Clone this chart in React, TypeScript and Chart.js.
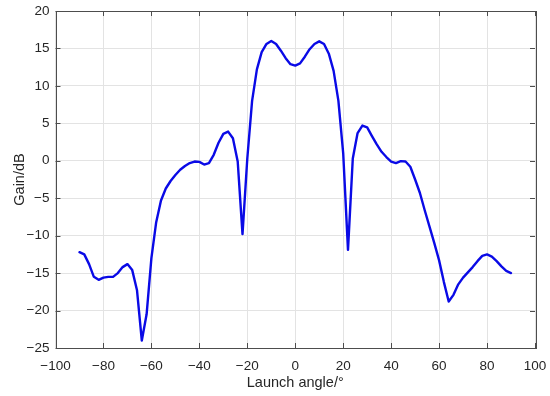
import React, { useEffect, useRef } from "react";
import { Chart, registerables } from "chart.js";

Chart.register(...registerables);

const angles: number[] = [
  -90, -88, -86, -84, -82, -80, -78, -76, -74, -72, -70, -68, -66, -64, -62, -60,
  -58, -56, -54, -52, -50, -48, -46, -44, -42, -40, -38, -36, -34, -32, -30, -28,
  -26, -24, -22, -20, -18, -16, -14, -12, -10, -8, -6, -4, -2, 0, 2, 4, 6, 8, 10,
  12, 14, 16, 18, 20, 22, 24, 26, 28, 30, 32, 34, 36, 38, 40, 42, 44, 46, 48, 50,
  52, 54, 56, 58, 60, 62, 64, 66, 68, 70, 72, 74, 76, 78, 80, 82, 84, 86, 88, 90,
];

const gain: number[] = [
  -12.2, -12.5, -13.8, -15.5, -15.9, -15.6, -15.5, -15.5, -15.0, -14.2, -13.8, -14.6,
  -17.3, -24.0, -20.5, -13.0, -8.2, -5.3, -3.7, -2.7, -1.9, -1.2, -0.7, -0.3, -0.1,
  -0.15, -0.5, -0.3, 0.8, 2.4, 3.6, 3.9, 3.0, -0.1, -9.8, 0.3, 8.0, 12.2, 14.5, 15.6,
  16.0, 15.6, 14.7, 13.7, 12.9, 12.7, 13.0, 13.9, 14.9, 15.6, 15.95, 15.6, 14.3, 12.0,
  8.0, 1.0, -11.9, 0.3, 3.7, 4.7, 4.45, 3.3, 2.2, 1.2, 0.5, -0.1, -0.3, -0.05, -0.1,
  -0.8, -2.5, -4.3, -6.6, -8.8, -11.0, -13.3, -16.2, -18.8, -17.9, -16.5, -15.6, -14.9,
  -14.2, -13.4, -12.7, -12.5, -12.8, -13.4, -14.1, -14.7, -15.0,
];

const xTitle = "Launch angle/°";
const yTitle = "Gain/dB";
const xRange = [-100, 100];
const yRange = [-25, 20];

const FONT = "'Liberation Sans', Arial, Helvetica, sans-serif";
const AXIS_COLOR = "#4d4d4d";
const TEXT_COLOR = "#262626";

const fmt = (v: number | string) => String(v).replace("-", "\u2212");

const boxPlugin = {
  id: "matlabBox",
  afterDraw(chart: any) {
    const { ctx, chartArea } = chart;
    const { left, right, top, bottom } = chartArea;
    ctx.save();
    ctx.strokeStyle = AXIS_COLOR;
    ctx.lineWidth = 1;
    const L = 5;
    ctx.beginPath();
    const xs = chart.scales.x;
    xs.ticks.forEach((t: any) => {
      const px = Math.round(xs.getPixelForValue(t.value)) + 0.5;
      ctx.moveTo(px, bottom);
      ctx.lineTo(px, bottom - L);
      ctx.moveTo(px, top);
      ctx.lineTo(px, top + L);
    });
    const ys = chart.scales.y;
    ys.ticks.forEach((t: any) => {
      const py = Math.round(ys.getPixelForValue(t.value)) + 0.5;
      ctx.moveTo(left, py);
      ctx.lineTo(left + L, py);
      ctx.moveTo(right, py);
      ctx.lineTo(right - L, py);
    });
    ctx.stroke();
    ctx.strokeRect(Math.round(left) + 0.5, Math.round(top) + 0.5, Math.round(right - left), Math.round(bottom - top));
    ctx.restore();
  },
};

export default function App() {
  const ref = useRef<HTMLCanvasElement>(null);
  useEffect(() => {
    if (!ref.current) return;
    const chart = new Chart(ref.current, {
      type: "line",
      data: {
        datasets: [
          {
            data: angles.map((a, i) => ({ x: a, y: gain[i] })),
            borderColor: "#0a0ae6",
            borderWidth: 2.4,
            borderJoinStyle: "round",
            borderCapStyle: "round",
            pointRadius: 0,
            tension: 0,
            fill: false,
          },
        ],
      },
      options: {
        responsive: false,
        animation: false,
        maintainAspectRatio: false,
        layout: { padding: { left: 0, top: 11, right: 15, bottom: 0 } },
        plugins: { legend: { display: false }, tooltip: { enabled: false } },
        scales: {
          x: {
            type: "linear",
            min: xRange[0],
            max: xRange[1],
            ticks: {
              stepSize: 20,
              color: TEXT_COLOR,
              font: { family: FONT, size: 13.5 },
              padding: 10,
              maxRotation: 0,
              callback: (v: any) => fmt(v),
            },
            grid: { color: "#e3e3e3", drawTicks: false },
            border: { display: false },
            title: {
              display: true,
              text: xTitle,
              color: TEXT_COLOR,
              font: { family: FONT, size: 14.5 },
              padding: { top: 2, bottom: 4 },
            },
            afterFit: (s: any) => {
              s.height = 48;
              s.paddingLeft = 0;
              s.paddingRight = 0;
            },
          },
          y: {
            min: yRange[0],
            max: yRange[1],
            ticks: {
              stepSize: 5,
              color: TEXT_COLOR,
              font: { family: FONT, size: 13.5 },
              padding: 6,
              callback: (v: any) => fmt(v),
            },
            grid: { color: "#e3e3e3", drawTicks: false },
            border: { display: false },
            title: {
              display: true,
              text: yTitle,
              color: TEXT_COLOR,
              font: { family: FONT, size: 14.5 },
              padding: { top: 11, bottom: 0 },
            },
            afterFit: (s: any) => {
              s.width = 55.5;
              s.paddingTop = 0;
              s.paddingBottom = 0;
            },
          },
        },
      },
      plugins: [boxPlugin],
    });
    return () => chart.destroy();
  }, []);
  return (
    <div style={{ position: "fixed", left: 0, top: 0, width: 550, height: 396, background: "#fff" }}>
      <canvas ref={ref} width={550} height={396} style={{ display: "block" }} />
    </div>
  );
}
